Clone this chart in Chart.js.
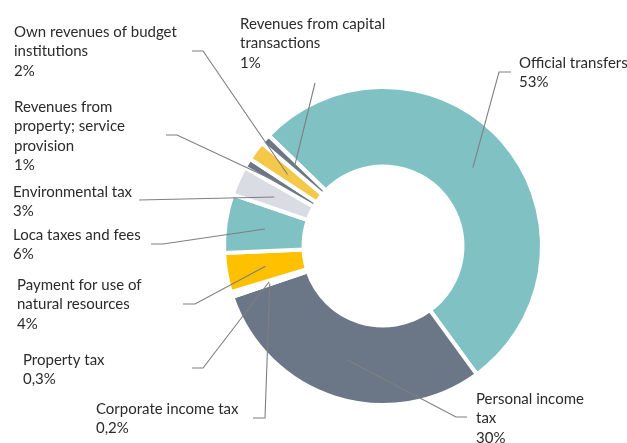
<!DOCTYPE html>
<html>
<head>
<meta charset="utf-8">
<script src="https://cdn.jsdelivr.net/npm/chart.js@4/dist/chart.umd.min.js"></script>
<style>
  html, body { margin: 0; padding: 0; background: #ffffff; }
  #wrap { width: 627px; height: 443px; }
</style>
</head>
<body>
<div id="wrap"><canvas id="revenue" width="627" height="443"></canvas></div>
<script>
// Revenue structure by source, shares in percent
const categories = [
  'Official transfers',
  'Personal income tax',
  'Corporate income tax',
  'Property tax',
  'Payment for use of natural resources',
  'Loca taxes and fees',
  'Environmental tax',
  'Revenues from property; service provision',
  'Own revenues of budget institutions',
  'Revenues from capital transactions'
];
const shares = [53, 30, 0.2, 0.3, 4, 6, 3, 1, 2, 1];
const shareLabels = ['53%', '30%', '0,2%', '0,3%', '4%', '6%', '3%', '1%', '2%', '1%'];

// How each category name is wrapped in its label
const labelLines = [
  ['Official transfers'],
  ['Personal income', 'tax'],
  ['Corporate income tax'],
  ['Property tax'],
  ['Payment for use of', 'natural resources'],
  ['Loca taxes and fees'],
  ['Environmental tax'],
  ['Revenues from', 'property; service', 'provision'],
  ['Own revenues of budget', 'institutions'],
  ['Revenues from capital', 'transactions']
];

const sliceColors = [
  '#80C2C3', '#6B7787', '#D9DDE3', '#80C2C3', '#FFC000',
  '#80C2C3', '#D9DDE3', '#6B7787', '#F4C94A', '#6B7787'
];

// Label placement: text origin (left x, centre of first line) and the
// leader-line points leading from the text towards its slice.
const labelLayout = [
  { x: 519, y: 63,  path: [[511, 72], [499, 72]] },
  { x: 476, y: 399, path: [[467, 417], [456, 417]] },
  { x: 96,  y: 409, path: [[253, 418], [265, 418]] },
  { x: 23,  y: 360, path: [[192, 368], [203, 368]] },
  { x: 17,  y: 285, path: [[183, 304], [195, 304]] },
  { x: 13,  y: 235, path: [[151, 244], [163, 244]] },
  { x: 13,  y: 192, path: [[139, 200]] },
  { x: 14,  y: 107, path: [[166, 135], [177, 135]] },
  { x: 14,  y: 32,  path: [[192, 51], [203, 51]] },
  { x: 240, y: 24,  path: [[315, 83]] }
];

const LINE_STEP = 19.5;

const calloutPlugin = {
  id: 'callouts',
  afterDraw(chart) {
    const ctx = chart.ctx;
    const arcs = chart.getDatasetMeta(0).data;
    ctx.save();
    // leader lines
    ctx.strokeStyle = '#7F7F7F';
    ctx.lineWidth = 1.1;
    arcs.forEach((arc, i) => {
      const lay = labelLayout[i];
      const p = arc.tooltipPosition();
      ctx.beginPath();
      ctx.moveTo(lay.path[0][0], lay.path[0][1]);
      for (let k = 1; k < lay.path.length; k++) ctx.lineTo(lay.path[k][0], lay.path[k][1]);
      ctx.lineTo(p.x, p.y);
      ctx.stroke();
    });
    // label texts
    ctx.fillStyle = '#2B2B2B';
    ctx.font = '15px Lato';
    ctx.textAlign = 'left';
    ctx.textBaseline = 'middle';
    labelLayout.forEach((lay, i) => {
      const lines = labelLines[i].concat([shareLabels[i]]);
      lines.forEach((t, k) => ctx.fillText(t, lay.x, lay.y + k * LINE_STEP));
    });
    ctx.restore();
  }
};

new Chart(document.getElementById('revenue'), {
  type: 'doughnut',
  data: {
    labels: categories,
    datasets: [{
      data: shares,
      backgroundColor: sliceColors,
      borderColor: '#ffffff',
      borderWidth: 4,
      hoverOffset: 0
    }]
  },
  options: {
    responsive: false,
    animation: false,
    rotation: -46,
    cutout: '50%',
    layout: { padding: { left: 222, right: 83, top: 85, bottom: 36 } },
    plugins: {
      legend: { display: false },
      tooltip: { enabled: false }
    }
  },
  plugins: [calloutPlugin]
});
</script>
</body>
</html>
